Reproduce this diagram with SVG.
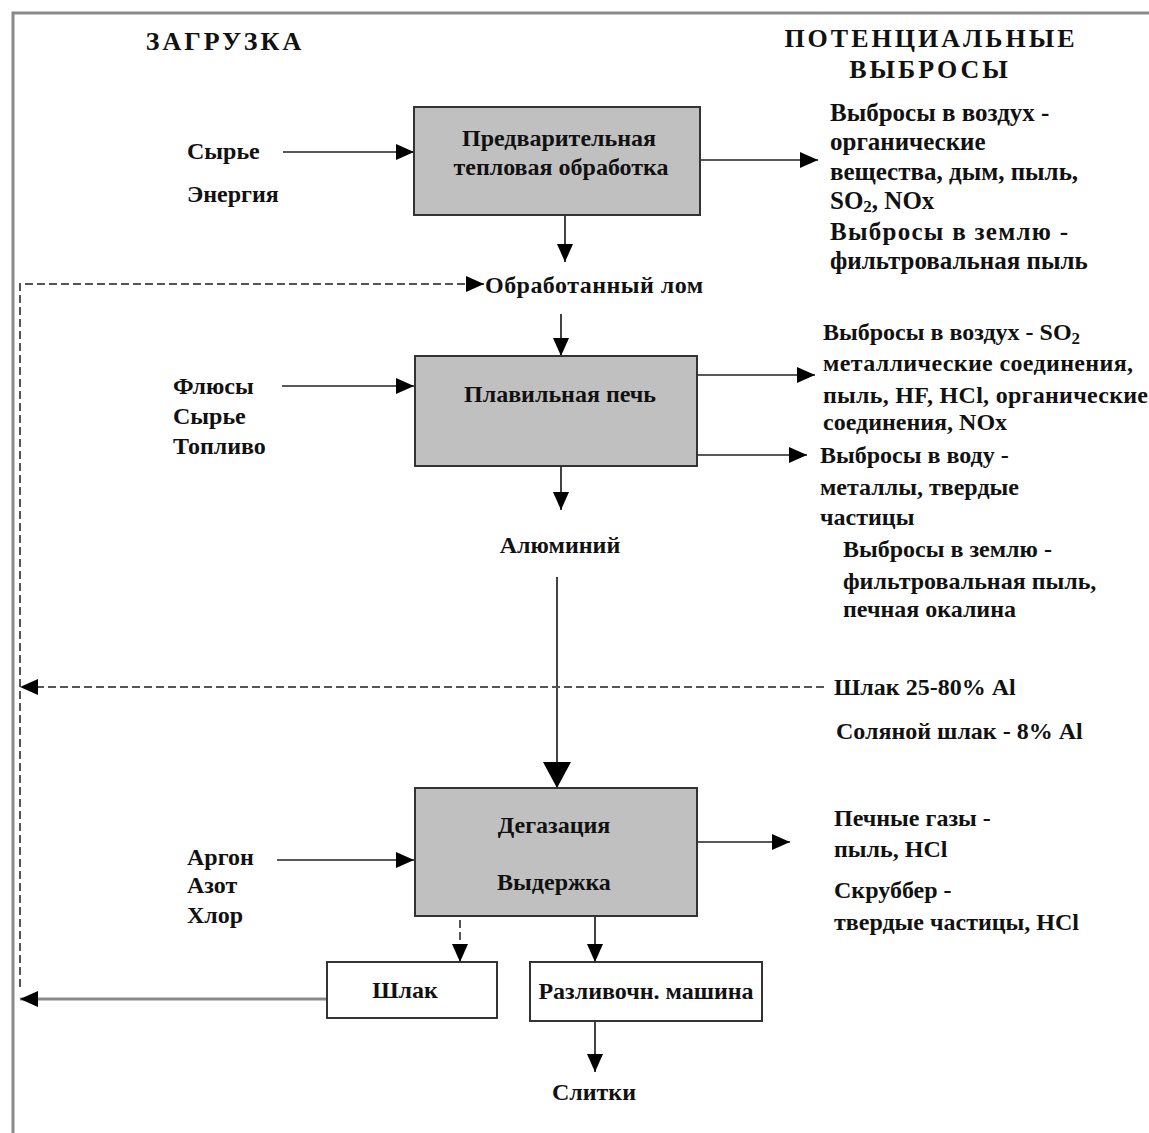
<svg xmlns="http://www.w3.org/2000/svg" width="1149" height="1133" viewBox="0 0 1149 1133">
  <style>
    text { font-family: "Liberation Serif", "DejaVu Serif", serif; font-weight: bold; fill: #111; }
    .hd { font-size: 26px; letter-spacing: 3px; }
    .t { font-size: 24px; }
    .tl { font-size: 25px; }
    .mid { text-anchor: middle; }
    .box { fill: #c0c0c0; stroke: #333; stroke-width: 2; }
    .wbox { fill: #fff; stroke: #333; stroke-width: 2; }
    .ln { fill: none; stroke: #222; stroke-width: 1.7; }
    .dash { fill: none; stroke: #555; stroke-width: 2; stroke-dasharray: 8 4; }
    .frame { fill: none; stroke: #8a8a8a; stroke-width: 3; }
    .gray { fill: none; stroke: #8a8a8a; stroke-width: 3; }
  </style>
  <defs>
    <marker id="ah" markerUnits="userSpaceOnUse" markerWidth="19" markerHeight="16" refX="18" refY="8" orient="auto">
      <path d="M0,0 L18,8 L0,16 Z" fill="#000"/>
    </marker>
    <marker id="ahBig" markerUnits="userSpaceOnUse" markerWidth="27" markerHeight="28" refX="26" refY="14" orient="auto">
      <path d="M0,0 L26,14 L0,28 Z" fill="#000"/>
    </marker>
  </defs>

  <rect width="1149" height="1133" fill="#fff"/>

  <!-- page frame -->
  <path class="frame" d="M13,1133 L13,13 L1149,13"/>

  <!-- column headings -->
  <text class="hd mid" x="225" y="50">ЗАГРУЗКА</text>
  <text class="hd mid" x="931" y="47">ПОТЕНЦИАЛЬНЫЕ</text>
  <text class="hd mid" x="930" y="78">ВЫБРОСЫ</text>

  <!-- connectors -->
  <g id="connectors">
    <line class="ln" x1="283" y1="152" x2="414" y2="152" marker-end="url(#ah)"/>
    <line class="ln" x1="700" y1="160" x2="818" y2="160" marker-end="url(#ah)"/>
    <line class="ln" x1="565" y1="215" x2="565" y2="262" marker-end="url(#ah)"/>
    <path class="dash" d="M20,987 L20,284 L484,284" marker-end="url(#ah)"/>
    <line class="ln" x1="561" y1="314" x2="561" y2="356" marker-end="url(#ah)"/>
    <line class="ln" x1="282" y1="386" x2="414" y2="386" marker-end="url(#ah)"/>
    <line class="ln" x1="697" y1="375" x2="815" y2="375" marker-end="url(#ah)"/>
    <line class="ln" x1="697" y1="455" x2="807" y2="455" marker-end="url(#ah)"/>
    <line class="ln" x1="561" y1="466" x2="561" y2="510" marker-end="url(#ah)"/>
    <line class="ln" x1="557" y1="577" x2="557" y2="788" marker-end="url(#ahBig)"/>
    <line class="dash" x1="824" y1="687" x2="20" y2="687" marker-end="url(#ah)"/>
    <line class="ln" x1="277" y1="860" x2="414" y2="860" marker-end="url(#ah)"/>
    <line class="ln" x1="697" y1="842" x2="790" y2="842" marker-end="url(#ah)"/>
    <line class="dash" x1="460" y1="908" x2="460" y2="962" marker-end="url(#ah)"/>
    <line class="ln" x1="595" y1="908" x2="595" y2="962" marker-end="url(#ah)"/>
    <line class="ln" x1="595" y1="1021" x2="595" y2="1072" marker-end="url(#ah)"/>
    <line class="gray" x1="327" y1="999" x2="20" y2="999" marker-end="url(#ah)"/>
  </g>

  <!-- process boxes -->
  <g id="preheat">
    <rect class="box" x="414" y="107" width="286" height="108"/>
    <text class="t mid" x="559" y="146">Предварительная</text>
    <text class="t mid" x="561" y="175">тепловая обработка</text>
  </g>
  <g id="furnace">
    <rect class="box" x="415" y="356" width="282" height="110"/>
    <text class="t mid" x="560" y="402">Плавильная печь</text>
  </g>
  <g id="degassing">
    <rect class="box" x="415" y="788" width="282" height="128"/>
    <text class="t mid" x="554" y="833">Дегазация</text>
    <text class="t mid" x="554" y="890">Выдержка</text>
  </g>
  <g id="slag">
    <rect class="wbox" x="327" y="962" width="170" height="56"/>
    <text class="t mid" x="405" y="998">Шлак</text>
  </g>
  <g id="caster">
    <rect class="wbox" x="530" y="962" width="232" height="59"/>
    <text class="t mid" x="646" y="999">Разливочн. машина</text>
  </g>

  <!-- intermediate products -->
  <g id="scrap"><text class="t" x="485" y="293" textLength="218">Обработанный  лом</text></g>
  <g id="aluminium"><text class="t mid" x="560" y="553">Алюминий</text></g>
  <g id="ingots"><text class="t mid" x="594" y="1100">Слитки</text></g>

  <!-- inputs -->
  <g id="in-preheat">
    <text class="t" x="187" y="159">Сырье</text>
    <text class="t" x="187" y="202">Энергия</text>
  </g>
  <g id="in-furnace">
    <text class="t" x="173" y="394">Флюсы</text>
    <text class="t" x="173" y="424">Сырье</text>
    <text class="t" x="173" y="454">Топливо</text>
  </g>
  <g id="in-degassing">
    <text class="t" x="187" y="865">Аргон</text>
    <text class="t" x="187" y="893">Азот</text>
    <text class="t" x="187" y="923">Хлор</text>
  </g>

  <!-- emissions -->
  <g id="out-preheat">
    <text class="tl" x="830" y="121">Выбросы в воздух -</text>
    <text class="tl" x="830" y="150">органические</text>
    <text class="tl" x="830" y="180">вещества, дым, пыль,</text>
    <text class="tl" x="830" y="209">SO<tspan font-size="17" dy="3">2</tspan><tspan dy="-3">, NOx</tspan></text>
    <text class="tl" x="830" y="240" textLength="238">Выбросы в землю -</text>
    <text class="tl" x="830" y="269">фильтровальная пыль</text>
  </g>
  <g id="out-furnace">
    <text class="t" x="823" y="340">Выбросы в воздух - SO<tspan font-size="17" dy="4">2</tspan></text>
    <text class="t" x="823" y="371" textLength="310">металлические соединения,</text>
    <text class="t" x="823" y="403" textLength="325">пыль, HF, HCl, органические</text>
    <text class="t" x="823" y="430">соединения, NOx</text>
    <text class="t" x="820" y="463">Выбросы в воду -</text>
    <text class="t" x="820" y="495">металлы, твердые</text>
    <text class="t" x="820" y="525">частицы</text>
    <text class="t" x="843" y="557">Выбросы в землю -</text>
    <text class="t" x="843" y="589">фильтровальная пыль,</text>
    <text class="t" x="843" y="617">печная окалина</text>
  </g>
  <g id="out-slag">
    <text class="t" x="834" y="695">Шлак 25-80% Al</text>
    <text class="t" x="836" y="739">Соляной шлак - 8% Al</text>
  </g>
  <g id="out-degassing">
    <text class="t" x="834" y="826">Печные газы -</text>
    <text class="t" x="834" y="857">пыль, HCl</text>
    <text class="t" x="834" y="898">Скруббер -</text>
    <text class="t" x="834" y="930">твердые частицы, HCl</text>
  </g>
</svg>
